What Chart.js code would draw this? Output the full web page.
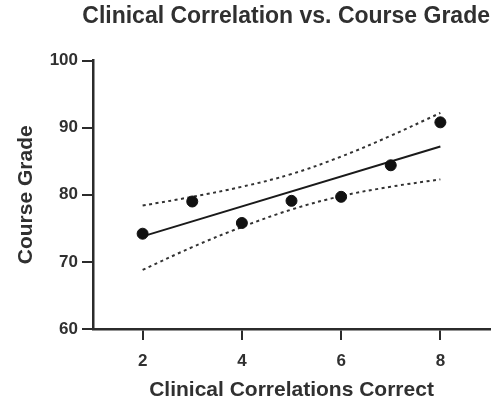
<!DOCTYPE html>
<html>
<head>
<meta charset="utf-8">
<script src="https://cdn.jsdelivr.net/npm/chart.js@4.4.1/dist/chart.umd.min.js"></script>
<style>
  html,body{margin:0;padding:0;background:#fff;}
  #wrap{width:500px;height:403px;}
</style>
</head>
<body>
<div id="wrap"><canvas id="c"></canvas></div>
<script>
// valores
const correctas = [2, 3, 4, 5, 6, 7, 8];
const notas = [74.2, 79.0, 75.8, 79.1, 79.7, 84.4, 90.8];

// recta de regresion
const ajusteX = [2, 8];
const ajusteY = [73.8, 87.2];

// banda de confianza (punteada)
const bandaX = [2, 3, 4, 5, 6, 7, 8];
const bandaSup = [78.4, 79.7, 81.2, 83.1, 85.7, 88.8, 92.2];
const bandaInf = [68.8, 72.2, 75.2, 77.8, 79.8, 81.2, 82.3];

const ticksX = [2, 4, 6, 8];
const ticksY = [60, 70, 80, 90, 100];

const GRIS = "#2b2b2b";
const TXT = "#303030";
const pares = (xs, ys) => xs.map((x, i) => ({x, y: ys[i]}));

const ejeComun = {
  border: { color: GRIS, width: 2.5 },
  grid: { drawOnChartArea: false, drawTicks: true, tickLength: 11, color: GRIS, lineWidth: 2 },
};

new Chart(document.getElementById("c"), {
  type: "scatter",
  data: {
    datasets: [
      {
        data: pares(correctas, notas),
        backgroundColor: "#111", borderColor: "#111",
        pointRadius: 5.5, pointHoverRadius: 5.5, order: 0
      },
      {
        type: "line", data: pares(ajusteX, ajusteY),
        borderColor: "#1a1a1a", borderWidth: 2, pointRadius: 0, fill: false, order: 1
      },
      {
        type: "line", data: pares(bandaX, bandaSup),
        borderColor: "#333", borderWidth: 2, borderDash: [3, 3.5],
        pointRadius: 0, tension: 0.4, fill: false, order: 2
      },
      {
        type: "line", data: pares(bandaX, bandaInf),
        borderColor: "#333", borderWidth: 2, borderDash: [3, 3.5],
        pointRadius: 0, tension: 0.4, fill: false, order: 2
      }
    ]
  },
  options: {
    responsive: true, maintainAspectRatio: false, animation: false,
    layout: { padding: { left: 0, right: 10, top: 0, bottom: 0 } },
    plugins: {
      legend: { display: false },
      tooltip: { enabled: false },
      title: {
        display: true, text: "Clinical Correlation vs. Course Grade",
        color: TXT, align: "end",
        font: { family: "Liberation Sans", size: 23, weight: "bold" },
        padding: { top: 3, bottom: 30 }
      }
    },
    scales: {
      x: {
        ...ejeComun,
        type: "linear", min: 1, max: 9,
        afterBuildTicks: s => { s.ticks = ticksX.map(v => ({value: v})); },
        afterFit: s => { s.height = 74; },
        ticks: { color: TXT, padding: 11, font: { family: "Liberation Sans", size: 17, weight: "bold" } },
        title: {
          display: true, text: "Clinical Correlations Correct", color: TXT,
          font: { family: "Liberation Sans", size: 21, weight: "bold" }, padding: { top: 0, bottom: 0 }
        }
      },
      y: {
        ...ejeComun,
        min: 60, max: 100,
        afterBuildTicks: s => { s.ticks = ticksY.map(v => ({value: v})); },
        afterFit: s => { s.width = 93; },
        ticks: { color: TXT, padding: 4, font: { family: "Liberation Sans", size: 17, weight: "bold" } },
        title: {
          display: true, text: "Course Grade", color: TXT,
          font: { family: "Liberation Sans", size: 21, weight: "bold" }, padding: { top: 14, bottom: 0 }
        }
      }
    }
  }
});
</script>
</body>
</html>
